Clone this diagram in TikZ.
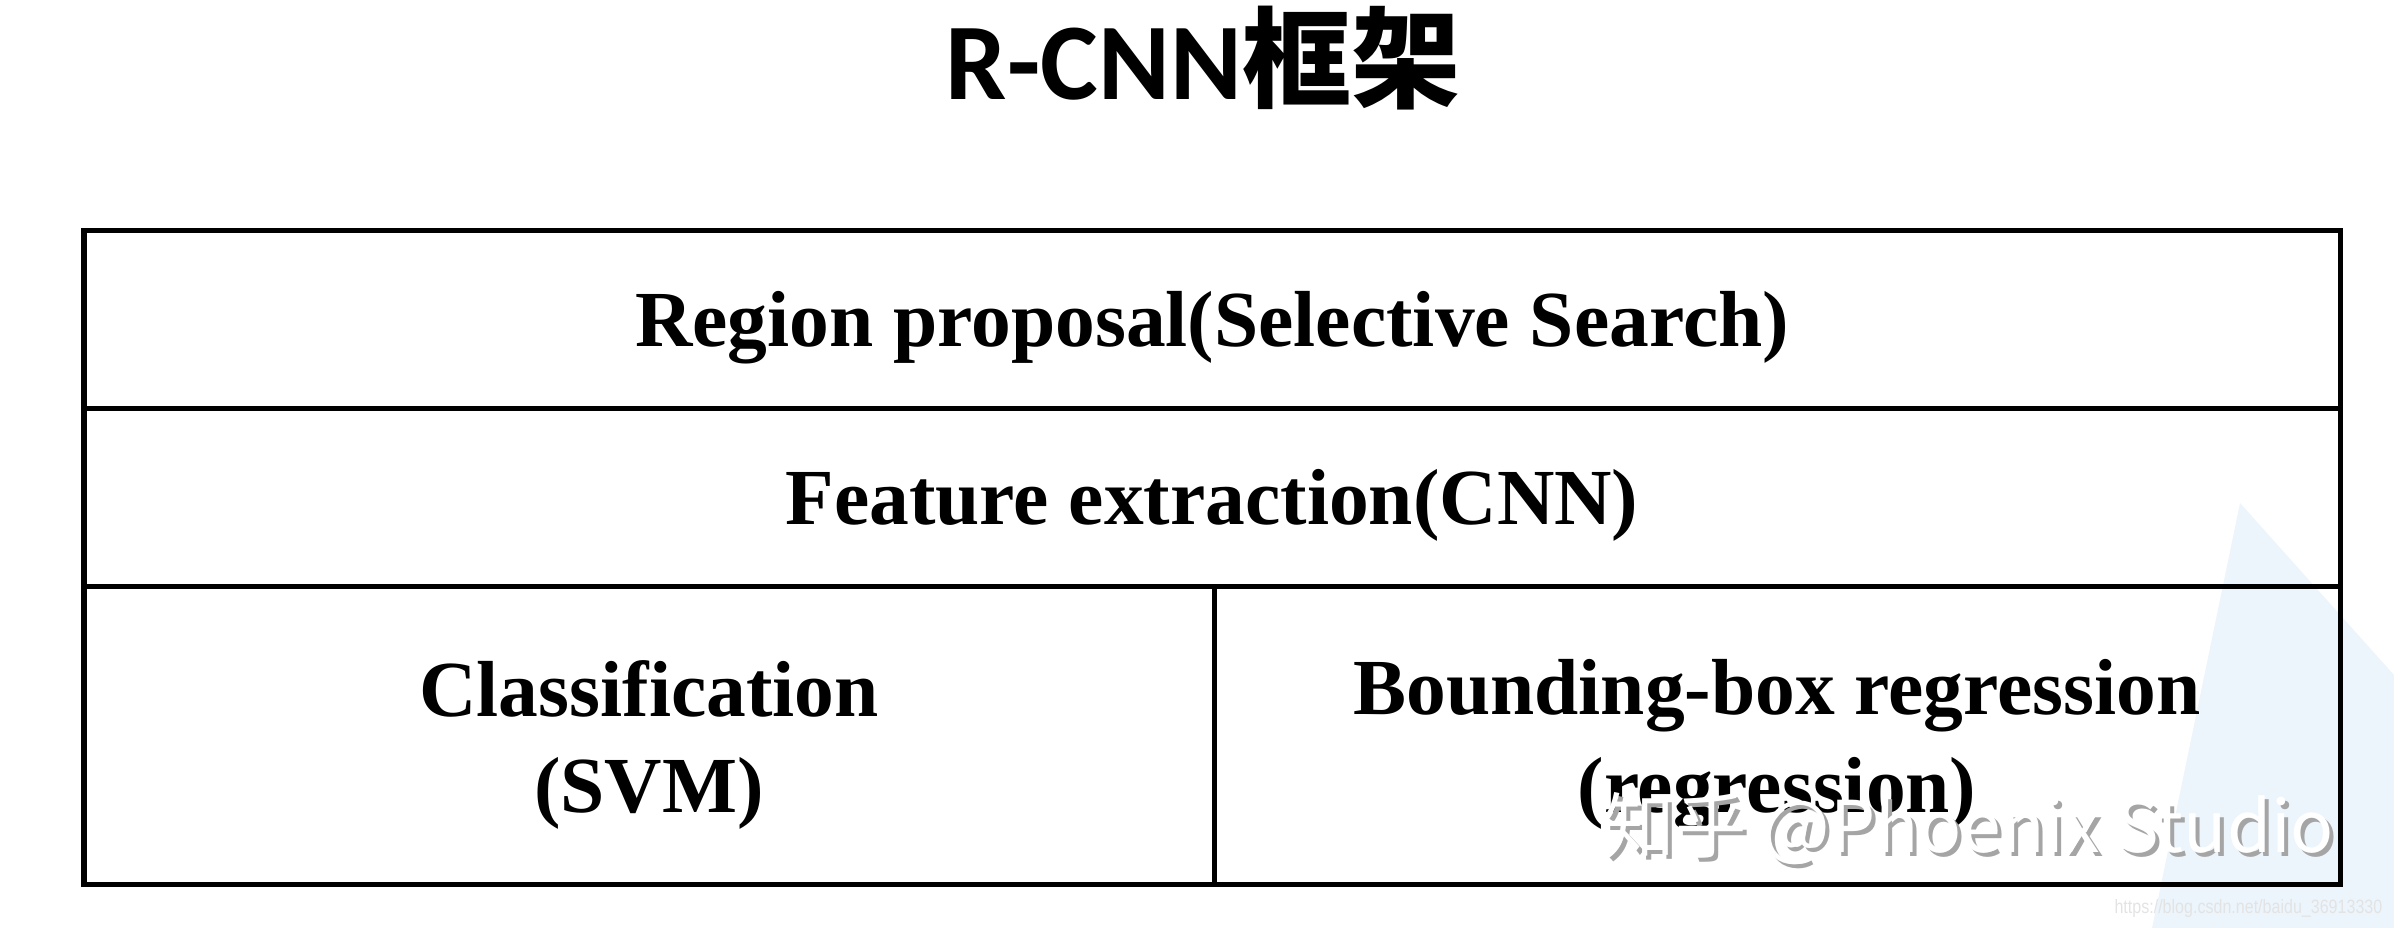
\documentclass[tikz,border=0pt]{standalone}
\usepackage{fontspec}
\usepackage{graphicx}
\setmainfont{Liberation Serif}
\newfontfamily\titlefont{Carlito}
\newfontfamily\cjkfont{Noto Sans CJK SC}
\newfontfamily\urlfont{Liberation Sans}
\definecolor{paleblue}{RGB}{236,245,252}
\definecolor{markgray}{RGB}{165,165,165}

\begin{document}
\begin{tikzpicture}[x=0.01cm,y=-0.01cm,
  tableline/.style={line width=0.05cm},
  cell/.style={anchor=base,inner sep=0pt,font=\fontsize{22.6pt}{27pt}\selectfont\bfseries},
  wmtext/.style={anchor=base west,inner sep=0pt,font=\cjkfont\fontsize{20.3pt}{24pt}\selectfont}]
\useasboundingbox (0,0) rectangle (2394,928);
% faint background shape
\fill[paleblue] (2240,503) -- (2394,675) -- (2394,928) -- (2152,928) -- cycle;

% title
\node[anchor=base,inner sep=0pt] (title) at (1203,100)
  {\titlefont\bfseries\fontsize{31pt}{36pt}\selectfont R-CNN{\cjkfont\bfseries 框架}};

% table
\coordinate (tl) at (84,231);
\coordinate (br) at (2340,884);
\draw[tableline] (tl) rectangle (br);
\foreach \y in {409,587}
  \draw[tableline] (84,\y) -- (2340,\y);
\draw[tableline] (1214,587) -- (1214,884);

\node[cell] (region) at (1212,347) {Region proposal(Selective Search)};
\node[cell] (feature) at (1212,525) {Feature extraction(CNN)};
\node[cell] (classify) at (649,717) {Classification};
\node[cell] (svm) at (649,812) {(SVM)};
\node[cell] (bbox) at (1777,715) {Bounding-box regression};
\node[cell] (regress) at (1777,812) {(regression)};

% watermark
\node[wmtext,text=markgray] (wmshadow) at (1607,856) {知乎 @Phoenix Studio};
\node[wmtext,text=white] (watermark) at (1603,852) {知乎 @Phoenix Studio};
\node[anchor=base east,inner sep=0pt,text=gray!22] (url) at (2383,913)
  {\scalebox{0.83}[1]{\urlfont\fontsize{5.5pt}{7pt}\selectfont https://blog.csdn.net/baidu\_36913330}};
\end{tikzpicture}
\end{document}
